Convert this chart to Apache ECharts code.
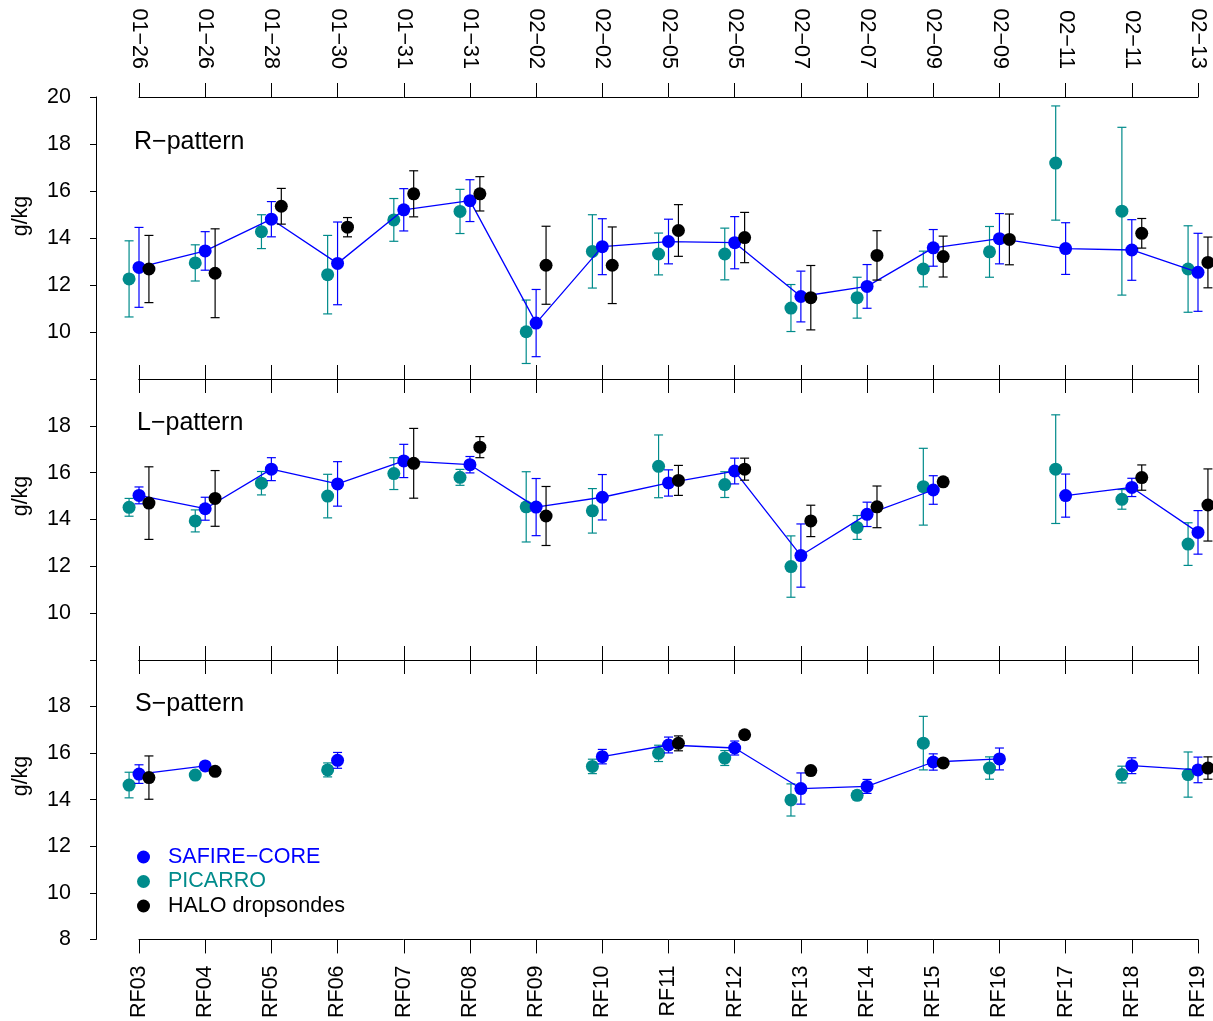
<!DOCTYPE html>
<html><head><meta charset="utf-8">
<script src="https://cdn.jsdelivr.net/npm/echarts@6/dist/echarts.min.js"></script>
<style>html,body{margin:0;padding:0;background:#fff}#c{width:1213px;height:1021px}</style>
</head><body><div id="c"></div>
<script>
// ---------- data ----------
const categories = ['RF03','RF04','RF05','RF06','RF07','RF08','RF09','RF10','RF11','RF12','RF13','RF14','RF15','RF16','RF17','RF18','RF19'];
const dates = ['01\u221226','01\u221226','01\u221228','01\u221230','01\u221231','01\u221231','02\u221202','02\u221202','02\u221205','02\u221205','02\u221207','02\u221207','02\u221209','02\u221209','02\u221211','02\u221211','02\u221213'];
const yTicks = [8,10,12,14,16,18,20];
const panelNames = ['R\u2212pattern','L\u2212pattern','S\u2212pattern'];
const seriesNames = ['SAFIRE\u2212CORE','PICARRO','HALO dropsondes'];

// R-pattern
const rSafire    = [12.75,13.45,14.80,12.92,15.20,15.59,10.38,13.63,13.85,13.80,11.51,11.94,13.58,13.97,13.55,13.49,12.54];
const rSafireSd  = [1.70,0.82,0.75,1.76,0.90,0.89,1.43,1.19,0.95,1.11,1.08,0.93,0.78,1.07,1.10,1.29,1.66];
const rPicarro   = [12.26,12.94,14.27,12.44,14.77,15.13,10.01,13.43,13.32,13.32,11.02,11.46,12.68,13.41,17.19,15.14,12.68];
const rPicarroSd = [1.62,0.77,0.72,1.67,0.91,0.94,1.35,1.56,0.89,1.10,1.00,0.87,0.76,1.08,2.43,3.57,1.84];
const rHalo      = [12.68,12.50,15.35,14.46,15.88,15.88,12.84,12.84,14.32,14.02,11.46,13.26,13.21,13.94,null,14.20,12.96];
const rHaloSd    = [1.43,1.89,0.76,0.41,0.98,0.73,1.66,1.63,1.10,1.07,1.37,1.05,0.87,1.08,null,0.63,1.08];

// L-pattern
const lSafire    = [15.03,14.46,16.15,15.52,16.50,16.34,14.53,14.95,15.56,16.07,12.46,14.22,15.26,null,15.02,15.37,13.45];
const lSafireSd  = [0.36,0.49,0.49,0.95,0.71,0.35,1.22,0.97,0.56,0.55,1.35,0.52,0.61,null,0.92,0.39,0.93];
const lPicarro   = [14.52,13.94,15.55,15.00,15.96,15.80,14.54,14.37,16.27,15.49,11.99,13.66,15.40,null,16.15,14.86,12.95];
const lPicarroSd = [0.38,0.47,0.50,0.93,0.68,0.34,1.50,0.95,1.34,0.55,1.31,0.51,1.64,null,2.32,0.42,0.91];
const lHalo      = [14.70,14.90,null,null,16.40,17.09,14.15,null,15.67,16.15,13.94,14.54,15.61,null,null,15.79,14.62];
const lHaloSd    = [1.55,1.19,null,null,1.49,0.45,1.26,null,0.64,0.47,0.67,0.89,0.15,null,null,0.54,1.54];

// S-pattern
const sSafire    = [15.10,15.45,null,15.69,null,null,null,15.85,16.35,16.22,14.48,14.57,15.62,15.75,null,15.46,15.28];
const sSafireSd  = [0.40,0.10,null,0.34,null,null,null,0.31,0.34,0.30,0.67,0.30,0.35,0.47,null,0.34,0.55];
const sPicarro   = [14.63,15.06,null,15.28,null,null,null,15.43,15.99,15.79,13.99,14.19,16.43,15.36,null,15.08,15.08];
const sPicarroSd = [0.55,0.10,null,0.30,null,null,null,0.31,0.35,0.32,0.69,0.20,1.15,0.48,null,0.36,0.97];
const sHalo      = [14.95,15.22,null,null,null,null,null,null,16.42,16.79,15.25,null,15.58,null,null,null,15.36];
const sHaloSd    = [0.93,0.05,null,null,null,null,null,null,0.32,0,0,null,0,null,null,null,0.48];

// ---------- styling ----------
const BLUE = '#0000FF', TEAL = '#008B8B', BLACK = '#000000';
const FONT = 'Liberation Sans, Arial, Helvetica, sans-serif';
const FS = 21.5;
const DODGE = 0.15;
const grids = [
  {left:139, right:15, top:97, height:282},
  {left:139, right:15, top:379, height:281},
  {left:139, right:15, top:660, height:281}
];

function errRender(color){
  return function(params, api){
    const x = api.value(0), y = api.value(1), sd = api.value(2);
    if (!(sd > 0)) return null;
    const top = api.coord([x, y + sd]);
    const bot = api.coord([x, y - sd]);
    const hw = 4.5;
    const st = {stroke: color, lineWidth: 1.2};
    return {type:'group', children:[
      {type:'line', shape:{x1:top[0], y1:top[1], x2:bot[0], y2:bot[1]}, style:st},
      {type:'line', shape:{x1:top[0]-hw, y1:top[1], x2:top[0]+hw, y2:top[1]}, style:st},
      {type:'line', shape:{x1:bot[0]-hw, y1:bot[1], x2:bot[0]+hw, y2:bot[1]}, style:st}
    ]};
  };
}

function pts(vals, off){
  const out = [];
  vals.forEach((v,i)=>{ if (v !== null) out.push([i+off, v]); });
  return out;
}
function errs(vals, sds, off){
  const out = [];
  vals.forEach((v,i)=>{ if (v !== null) out.push([i+off, v, sds[i]]); });
  return out;
}

const panels = [
  [rSafire,rSafireSd,rPicarro,rPicarroSd,rHalo,rHaloSd],
  [lSafire,lSafireSd,lPicarro,lPicarroSd,lHalo,lHaloSd],
  [sSafire,sSafireSd,sPicarro,sPicarroSd,sHalo,sHaloSd]
];

const xAxes = [], yAxes = [], series = [];
const hideY = [[8],[8,20],[20]];
panels.forEach((p, k)=>{
  const [saf, safSd, pic, picSd, hal, halSd] = p;
  const tickInsideTop = (k !== 0);
  const tickInsideBot = (k !== 2);
  xAxes.push({
    type:'value', gridIndex:k, position:'top', min:0, max:16, interval:1,
    axisLine:{show:true, onZero:false, lineStyle:{color:BLACK, width:1}},
    axisTick:{show:true, inside:tickInsideTop, length:14, lineStyle:{color:BLACK, width:1}},
    splitLine:{show:false},
    axisLabel:{show:k===0, rotate:90, margin:28, fontSize:FS, fontFamily:FONT, color:BLACK,
      formatter:(v)=>dates[v] !== undefined ? dates[v] : ''}
  });
  xAxes.push({
    type:'value', gridIndex:k, position:'bottom', min:0, max:16, interval:1,
    axisLine:{show:true, onZero:false, lineStyle:{color:BLACK, width:1}},
    axisTick:{show:true, inside:tickInsideBot, length:14, lineStyle:{color:BLACK, width:1}},
    splitLine:{show:false},
    axisLabel:{show:k===2, rotate:90, margin:26, fontSize:FS, fontFamily:FONT, color:BLACK,
      formatter:(v)=>categories[v] !== undefined ? categories[v] : ''}
  });
  yAxes.push({
    type:'value', gridIndex:k, position:'left', min:yTicks[0], max:yTicks[yTicks.length-1], interval:2, offset:43,
    axisLine:{show:true, onZero:false, lineStyle:{color:BLACK, width:1}},
    axisTick:{show:true, length:6, lineStyle:{color:BLACK, width:1}},
    splitLine:{show:false},
    axisLabel:{margin:25, fontSize:FS, fontFamily:FONT, color:BLACK,
      formatter:(v)=> hideY[k].indexOf(v) >= 0 ? '' : String(v)}
  });
  const xi = 2*k+1, yi = k;
  series.push({type:'custom', name:'picErr'+k, xAxisIndex:xi, yAxisIndex:yi, renderItem:errRender(TEAL),
    data:errs(pic, picSd, -DODGE), encode:{x:0, y:1}, z:2, silent:true});
  series.push({type:'scatter', name:seriesNames[1], xAxisIndex:xi, yAxisIndex:yi, symbol:'circle', symbolSize:13,
    itemStyle:{color:TEAL, opacity:1}, data:pts(pic, -DODGE), z:3, clip:false});
  series.push({type:'line', name:'safLine'+k, xAxisIndex:xi, yAxisIndex:yi, showSymbol:false, symbol:'none',
    lineStyle:{color:BLUE, width:1.3}, connectNulls:false,
    data:saf.map((v,i)=>[i, v === null ? '-' : v]), z:4, silent:true});
  series.push({type:'custom', name:'safErr'+k, xAxisIndex:xi, yAxisIndex:yi, renderItem:errRender(BLUE),
    data:errs(saf, safSd, 0), encode:{x:0, y:1}, z:5, silent:true});
  series.push({type:'scatter', name:seriesNames[0], xAxisIndex:xi, yAxisIndex:yi, symbol:'circle', symbolSize:13,
    itemStyle:{color:BLUE, opacity:1}, data:pts(saf, 0), z:6, clip:false});
  series.push({type:'custom', name:'halErr'+k, xAxisIndex:xi, yAxisIndex:yi, renderItem:errRender(BLACK),
    data:errs(hal, halSd, DODGE), encode:{x:0, y:1}, z:7, silent:true});
  series.push({type:'scatter', name:seriesNames[2], xAxisIndex:xi, yAxisIndex:yi, symbol:'circle', symbolSize:13,
    itemStyle:{color:BLACK, opacity:1}, data:pts(hal, DODGE), z:8, clip:false});
});

const ylabY = [216, 496, 776];
const panelLabY = [142, 423, 704];
const panelLabX = [134, 137, 135];
const graphics = [];
for (let k=0;k<3;k++){
  graphics.push({type:'text', x:21, y:ylabY[k], rotation:Math.PI/2,
    style:{text:'g/kg', fontSize:FS, fontFamily:FONT, fill:BLACK, align:'center', verticalAlign:'middle',
      textAlign:'center', textVerticalAlign:'middle'}});
  graphics.push({type:'text', x:panelLabX[k], y:panelLabY[k],
    style:{text:panelNames[k], fontSize:25, fontFamily:FONT, fill:BLACK, align:'left', verticalAlign:'middle',
      textAlign:'left', textVerticalAlign:'middle'}});
}

const chart = echarts.init(document.getElementById('c'), null, {renderer:'canvas'});
chart.setOption({
  animation:false,
  backgroundColor:'#ffffff',
  textStyle:{fontFamily:FONT},
  grid:grids,
  xAxis:xAxes,
  yAxis:yAxes,
  legend:{
    orient:'vertical', left:137, top:846, padding:0, itemGap:2.5,
    itemWidth:25, itemHeight:13, icon:'circle', selectedMode:false,
    textStyle:{fontSize:FS, fontFamily:FONT, lineHeight:20, padding:[0,0,0,7]},
    data:[
      {name:seriesNames[0], textStyle:{color:BLUE}},
      {name:seriesNames[1], textStyle:{color:TEAL}},
      {name:seriesNames[2], textStyle:{color:BLACK}}
    ]
  },
  graphic:graphics,
  series:series
});
</script></body></html>
